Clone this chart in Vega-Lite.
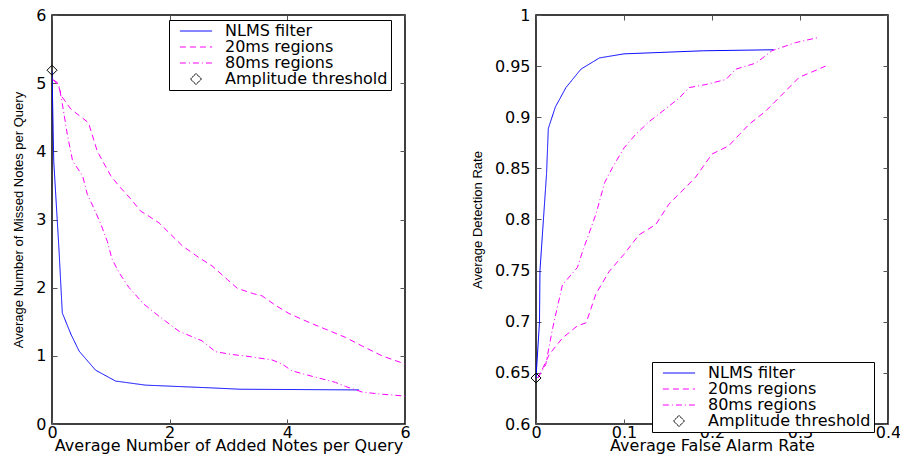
{
  "$schema": "https://vega.github.io/schema/vega-lite/v6.json",
  "background": "white",
  "padding": {"left": 12, "top": 6, "right": 5, "bottom": 0},
  "config": {
    "view": {"stroke": "black", "strokeWidth": 1.5},
    "font": "DejaVu Sans",
    "axis": {"grid": false, "domain": false, "offset": -5, "tickColor": "#555555", "tickSize": 5, "labelFlush": false, "labelFont": "DejaVu Sans", "labelFontSize": 16, "labelColor": "black", "labelPadding": 0, "titleFont": "DejaVu Sans", "titleFontSize": 16, "titleFontWeight": "normal", "titleColor": "black", "titlePadding": -3},
    "axisY": {"titleFont": "Liberation Sans", "titleFontSize": 13, "titlePadding": 10, "labelPadding": 6},
    "legend": {"labelFont": "DejaVu Sans", "labelFontSize": 16, "labelColor": "black", "labelLimit": 300, "strokeColor": "black", "fillColor": "white", "padding": 3, "symbolSize": 196, "symbolOffset": 16, "symbolStrokeWidth": 1, "labelOffset": 21}
  },
  "datasets": {
    "left": [
      {"series": "NLMS filter", "i": 0, "x": 0, "y": 5.18},
      {"series": "NLMS filter", "i": 1, "x": 0.03, "y": 3.85},
      {"series": "NLMS filter", "i": 2, "x": 0.12, "y": 2.54},
      {"series": "NLMS filter", "i": 3, "x": 0.175, "y": 1.63},
      {"series": "NLMS filter", "i": 4, "x": 0.32, "y": 1.32},
      {"series": "NLMS filter", "i": 5, "x": 0.46, "y": 1.07},
      {"series": "NLMS filter", "i": 6, "x": 0.74, "y": 0.79},
      {"series": "NLMS filter", "i": 7, "x": 1.08, "y": 0.63},
      {"series": "NLMS filter", "i": 8, "x": 1.59, "y": 0.57},
      {"series": "NLMS filter", "i": 9, "x": 2.7, "y": 0.53},
      {"series": "NLMS filter", "i": 10, "x": 3.2, "y": 0.51},
      {"series": "NLMS filter", "i": 11, "x": 5.22, "y": 0.5},
      {"series": "20ms regions", "i": 0, "x": 0.02, "y": 5.05},
      {"series": "20ms regions", "i": 1, "x": 0.09, "y": 5.01},
      {"series": "20ms regions", "i": 2, "x": 0.17, "y": 4.8},
      {"series": "20ms regions", "i": 3, "x": 0.32, "y": 4.62},
      {"series": "20ms regions", "i": 4, "x": 0.62, "y": 4.42},
      {"series": "20ms regions", "i": 5, "x": 0.77, "y": 4.0},
      {"series": "20ms regions", "i": 6, "x": 1.0, "y": 3.64},
      {"series": "20ms regions", "i": 7, "x": 1.14, "y": 3.49},
      {"series": "20ms regions", "i": 8, "x": 1.34, "y": 3.3},
      {"series": "20ms regions", "i": 9, "x": 1.51, "y": 3.12},
      {"series": "20ms regions", "i": 10, "x": 1.59, "y": 3.08},
      {"series": "20ms regions", "i": 11, "x": 1.82, "y": 2.95},
      {"series": "20ms regions", "i": 12, "x": 2.22, "y": 2.61},
      {"series": "20ms regions", "i": 13, "x": 2.5, "y": 2.44},
      {"series": "20ms regions", "i": 14, "x": 2.72, "y": 2.32},
      {"series": "20ms regions", "i": 15, "x": 2.98, "y": 2.12},
      {"series": "20ms regions", "i": 16, "x": 3.15, "y": 1.99},
      {"series": "20ms regions", "i": 17, "x": 3.43, "y": 1.91},
      {"series": "20ms regions", "i": 18, "x": 3.57, "y": 1.88},
      {"series": "20ms regions", "i": 19, "x": 3.8, "y": 1.74},
      {"series": "20ms regions", "i": 20, "x": 4.03, "y": 1.62},
      {"series": "20ms regions", "i": 21, "x": 4.37, "y": 1.49},
      {"series": "20ms regions", "i": 22, "x": 4.99, "y": 1.27},
      {"series": "20ms regions", "i": 23, "x": 5.28, "y": 1.14},
      {"series": "20ms regions", "i": 24, "x": 5.61, "y": 1.0},
      {"series": "20ms regions", "i": 25, "x": 6.0, "y": 0.88},
      {"series": "80ms regions", "i": 0, "x": 0.02, "y": 5.05},
      {"series": "80ms regions", "i": 1, "x": 0.12, "y": 4.96},
      {"series": "80ms regions", "i": 2, "x": 0.175, "y": 4.7},
      {"series": "80ms regions", "i": 3, "x": 0.26, "y": 4.25},
      {"series": "80ms regions", "i": 4, "x": 0.35, "y": 3.86},
      {"series": "80ms regions", "i": 5, "x": 0.52, "y": 3.64},
      {"series": "80ms regions", "i": 6, "x": 0.6, "y": 3.37},
      {"series": "80ms regions", "i": 7, "x": 0.71, "y": 3.17},
      {"series": "80ms regions", "i": 8, "x": 0.83, "y": 2.93},
      {"series": "80ms regions", "i": 9, "x": 0.94, "y": 2.68},
      {"series": "80ms regions", "i": 10, "x": 1.02, "y": 2.42},
      {"series": "80ms regions", "i": 11, "x": 1.14, "y": 2.22},
      {"series": "80ms regions", "i": 12, "x": 1.31, "y": 2.0},
      {"series": "80ms regions", "i": 13, "x": 1.56, "y": 1.76},
      {"series": "80ms regions", "i": 14, "x": 1.82, "y": 1.58},
      {"series": "80ms regions", "i": 15, "x": 2.16, "y": 1.36},
      {"series": "80ms regions", "i": 16, "x": 2.55, "y": 1.22},
      {"series": "80ms regions", "i": 17, "x": 2.78, "y": 1.06},
      {"series": "80ms regions", "i": 18, "x": 3.06, "y": 1.02},
      {"series": "80ms regions", "i": 19, "x": 3.35, "y": 0.99},
      {"series": "80ms regions", "i": 20, "x": 3.74, "y": 0.94},
      {"series": "80ms regions", "i": 21, "x": 3.91, "y": 0.88},
      {"series": "80ms regions", "i": 22, "x": 4.08, "y": 0.78},
      {"series": "80ms regions", "i": 23, "x": 4.42, "y": 0.7},
      {"series": "80ms regions", "i": 24, "x": 4.82, "y": 0.61},
      {"series": "80ms regions", "i": 25, "x": 4.99, "y": 0.55},
      {"series": "80ms regions", "i": 26, "x": 5.27, "y": 0.47},
      {"series": "80ms regions", "i": 27, "x": 5.56, "y": 0.44},
      {"series": "80ms regions", "i": 28, "x": 6.0, "y": 0.41},
      {"series": "Amplitude threshold", "i": 0, "x": 0, "y": 5.19}
    ],
    "right": [
      {"series": "NLMS filter", "i": 0, "x": 0, "y": 0.645},
      {"series": "NLMS filter", "i": 1, "x": 0.004, "y": 0.7},
      {"series": "NLMS filter", "i": 2, "x": 0.0045, "y": 0.75},
      {"series": "NLMS filter", "i": 3, "x": 0.012, "y": 0.845},
      {"series": "NLMS filter", "i": 4, "x": 0.014, "y": 0.889},
      {"series": "NLMS filter", "i": 5, "x": 0.022, "y": 0.91},
      {"series": "NLMS filter", "i": 6, "x": 0.034, "y": 0.929},
      {"series": "NLMS filter", "i": 7, "x": 0.051, "y": 0.947},
      {"series": "NLMS filter", "i": 8, "x": 0.072, "y": 0.958},
      {"series": "NLMS filter", "i": 9, "x": 0.1, "y": 0.962},
      {"series": "NLMS filter", "i": 10, "x": 0.19, "y": 0.965},
      {"series": "NLMS filter", "i": 11, "x": 0.27, "y": 0.966},
      {"series": "20ms regions", "i": 0, "x": 0.002, "y": 0.645},
      {"series": "20ms regions", "i": 1, "x": 0.008, "y": 0.655},
      {"series": "20ms regions", "i": 2, "x": 0.015, "y": 0.668},
      {"series": "20ms regions", "i": 3, "x": 0.03, "y": 0.684},
      {"series": "20ms regions", "i": 4, "x": 0.047, "y": 0.696},
      {"series": "20ms regions", "i": 5, "x": 0.057, "y": 0.699},
      {"series": "20ms regions", "i": 6, "x": 0.068, "y": 0.727},
      {"series": "20ms regions", "i": 7, "x": 0.083, "y": 0.749},
      {"series": "20ms regions", "i": 8, "x": 0.1, "y": 0.766},
      {"series": "20ms regions", "i": 9, "x": 0.117, "y": 0.785},
      {"series": "20ms regions", "i": 10, "x": 0.136, "y": 0.795},
      {"series": "20ms regions", "i": 11, "x": 0.151, "y": 0.815},
      {"series": "20ms regions", "i": 12, "x": 0.166, "y": 0.828},
      {"series": "20ms regions", "i": 13, "x": 0.181, "y": 0.841},
      {"series": "20ms regions", "i": 14, "x": 0.2, "y": 0.864},
      {"series": "20ms regions", "i": 15, "x": 0.219, "y": 0.872},
      {"series": "20ms regions", "i": 16, "x": 0.231, "y": 0.883},
      {"series": "20ms regions", "i": 17, "x": 0.242, "y": 0.893},
      {"series": "20ms regions", "i": 18, "x": 0.261, "y": 0.906},
      {"series": "20ms regions", "i": 19, "x": 0.276, "y": 0.919},
      {"series": "20ms regions", "i": 20, "x": 0.299, "y": 0.939},
      {"series": "20ms regions", "i": 21, "x": 0.329, "y": 0.95},
      {"series": "80ms regions", "i": 0, "x": 0.002, "y": 0.645},
      {"series": "80ms regions", "i": 1, "x": 0.011, "y": 0.658},
      {"series": "80ms regions", "i": 2, "x": 0.019, "y": 0.694},
      {"series": "80ms regions", "i": 3, "x": 0.03, "y": 0.736},
      {"series": "80ms regions", "i": 4, "x": 0.047, "y": 0.753},
      {"series": "80ms regions", "i": 5, "x": 0.053, "y": 0.769},
      {"series": "80ms regions", "i": 6, "x": 0.068, "y": 0.805},
      {"series": "80ms regions", "i": 7, "x": 0.078, "y": 0.836},
      {"series": "80ms regions", "i": 8, "x": 0.087, "y": 0.851},
      {"series": "80ms regions", "i": 9, "x": 0.1, "y": 0.87},
      {"series": "80ms regions", "i": 10, "x": 0.113, "y": 0.883},
      {"series": "80ms regions", "i": 11, "x": 0.129, "y": 0.896},
      {"series": "80ms regions", "i": 12, "x": 0.144, "y": 0.906},
      {"series": "80ms regions", "i": 13, "x": 0.163, "y": 0.919},
      {"series": "80ms regions", "i": 14, "x": 0.174, "y": 0.929},
      {"series": "80ms regions", "i": 15, "x": 0.193, "y": 0.932},
      {"series": "80ms regions", "i": 16, "x": 0.216, "y": 0.937},
      {"series": "80ms regions", "i": 17, "x": 0.227, "y": 0.947},
      {"series": "80ms regions", "i": 18, "x": 0.25, "y": 0.953},
      {"series": "80ms regions", "i": 19, "x": 0.268, "y": 0.965},
      {"series": "80ms regions", "i": 20, "x": 0.295, "y": 0.973},
      {"series": "80ms regions", "i": 21, "x": 0.321, "y": 0.978},
      {"series": "Amplitude threshold", "i": 0, "x": 0, "y": 0.645}
    ]
  },
  "spacing": 59,
  "hconcat": [
    {
      "width": 353,
      "height": 409,
      "data": {"name": "left"},
      "layer": [
        {
          "transform": [{"filter": "datum.series !== 'Amplitude threshold'"}],
          "mark": {"type": "line", "strokeWidth": 1, "clip": true},
          "encoding": {
            "x": {"field": "x", "type": "quantitative", "scale": {"domain": [0, 6], "nice": false, "zero": false}, "axis": {"values": [0, 2, 4, 6], "title": "Average Number of Added Notes per Query", "orient": "bottom"}},
            "y": {"field": "y", "type": "quantitative", "scale": {"domain": [0, 6], "nice": false, "zero": false}, "axis": {"values": [0, 1, 2, 3, 4, 5, 6], "title": "Average Number of Missed Notes per Query", "orient": "left"}},
            "color": {"field": "series", "type": "nominal", "scale": {"domain": ["NLMS filter", "20ms regions", "80ms regions", "Amplitude threshold"], "range": ["#0000ff", "#ff00ff", "#ff00ff", "#000000"]}, "legend": {"title": null, "orient": "none", "legendX": 117, "legendY": 5, "rowPadding": -3, "encode": {"symbols": {"update": {"size": {"signal": "datum.value === 'Amplitude threshold' ? 120 : 196"}, "shape": {"signal": "datum.value === 'Amplitude threshold' ? 'diamond' : 'M-2.3,0H2.3'"}, "strokeDash": {"signal": "datum.value === '20ms regions' ? [6, 4] : datum.value === '80ms regions' ? [6, 3, 1, 3] : [1, 0]"}, "stroke": {"signal": "datum.value === 'NLMS filter' ? '#0000ff' : datum.value === 'Amplitude threshold' ? '#000000' : '#ff00ff'"}, "fill": {"value": "transparent"}, "opacity": {"value": 1}}}}}},
            "strokeDash": {"field": "series", "type": "nominal", "scale": {"domain": ["NLMS filter", "20ms regions", "80ms regions", "Amplitude threshold"], "range": [[1, 0], [6, 4], [6, 3, 1, 3], [1, 0]]}, "legend": null},
            "order": {"field": "i", "type": "quantitative"}
          }
        },
        {
          "transform": [{"filter": "datum.series === 'Amplitude threshold'"}],
          "mark": {"type": "point", "shape": "diamond", "filled": false, "size": 100, "strokeWidth": 1, "color": "black", "opacity": 1, "clip": false},
          "encoding": {
            "x": {"field": "x", "type": "quantitative", "scale": {"domain": [0, 6], "nice": false, "zero": false}, "axis": {"values": [0, 2, 4, 6], "title": null, "labels": false, "orient": "top"}},
            "y": {"field": "y", "type": "quantitative", "scale": {"domain": [0, 6], "nice": false, "zero": false}, "axis": {"values": [0, 1, 2, 3, 4, 5, 6], "title": null, "labels": false, "orient": "right"}}
          }
        }
      ],
      "resolve": {"axis": {"x": "independent", "y": "independent"}}
    },
    {
      "width": 352,
      "height": 409,
      "data": {"name": "right"},
      "layer": [
        {
          "transform": [{"filter": "datum.series !== 'Amplitude threshold'"}],
          "mark": {"type": "line", "strokeWidth": 1, "clip": true},
          "encoding": {
            "x": {"field": "x", "type": "quantitative", "scale": {"domain": [0, 0.4], "nice": false, "zero": false}, "axis": {"values": [0, 0.1, 0.2, 0.3, 0.4], "format": "~g", "title": "Average False Alarm Rate", "orient": "bottom"}},
            "y": {"field": "y", "type": "quantitative", "scale": {"domain": [0.6, 1], "nice": false, "zero": false}, "axis": {"values": [0.6, 0.65, 0.7, 0.75, 0.8, 0.85, 0.9, 0.95, 1], "format": "~g", "title": "Average Detection Rate", "orient": "left"}},
            "color": {"field": "series", "type": "nominal", "scale": {"domain": ["NLMS filter", "20ms regions", "80ms regions", "Amplitude threshold"], "range": ["#0000ff", "#ff00ff", "#ff00ff", "#000000"]}, "legend": {"title": null, "orient": "none", "legendX": 116, "legendY": 347, "rowPadding": -3, "encode": {"symbols": {"update": {"size": {"signal": "datum.value === 'Amplitude threshold' ? 120 : 196"}, "shape": {"signal": "datum.value === 'Amplitude threshold' ? 'diamond' : 'M-2.3,0H2.3'"}, "strokeDash": {"signal": "datum.value === '20ms regions' ? [6, 4] : datum.value === '80ms regions' ? [6, 3, 1, 3] : [1, 0]"}, "stroke": {"signal": "datum.value === 'NLMS filter' ? '#0000ff' : datum.value === 'Amplitude threshold' ? '#000000' : '#ff00ff'"}, "fill": {"value": "transparent"}, "opacity": {"value": 1}}}}}},
            "strokeDash": {"field": "series", "type": "nominal", "scale": {"domain": ["NLMS filter", "20ms regions", "80ms regions", "Amplitude threshold"], "range": [[1, 0], [6, 4], [6, 3, 1, 3], [1, 0]]}, "legend": null},
            "order": {"field": "i", "type": "quantitative"}
          }
        },
        {
          "transform": [{"filter": "datum.series === 'Amplitude threshold'"}],
          "mark": {"type": "point", "shape": "diamond", "filled": false, "size": 100, "strokeWidth": 1, "color": "black", "opacity": 1, "clip": false},
          "encoding": {
            "x": {"field": "x", "type": "quantitative", "scale": {"domain": [0, 0.4], "nice": false, "zero": false}, "axis": {"values": [0, 0.1, 0.2, 0.3, 0.4], "title": null, "labels": false, "orient": "top"}},
            "y": {"field": "y", "type": "quantitative", "scale": {"domain": [0.6, 1], "nice": false, "zero": false}, "axis": {"values": [0.6, 0.65, 0.7, 0.75, 0.8, 0.85, 0.9, 0.95, 1], "title": null, "labels": false, "orient": "right"}}
          }
        }
      ],
      "resolve": {"axis": {"x": "independent", "y": "independent"}}
    }
  ],
  "resolve": {"scale": {"color": "independent", "strokeDash": "independent"}, "legend": {"color": "independent"}}
}
